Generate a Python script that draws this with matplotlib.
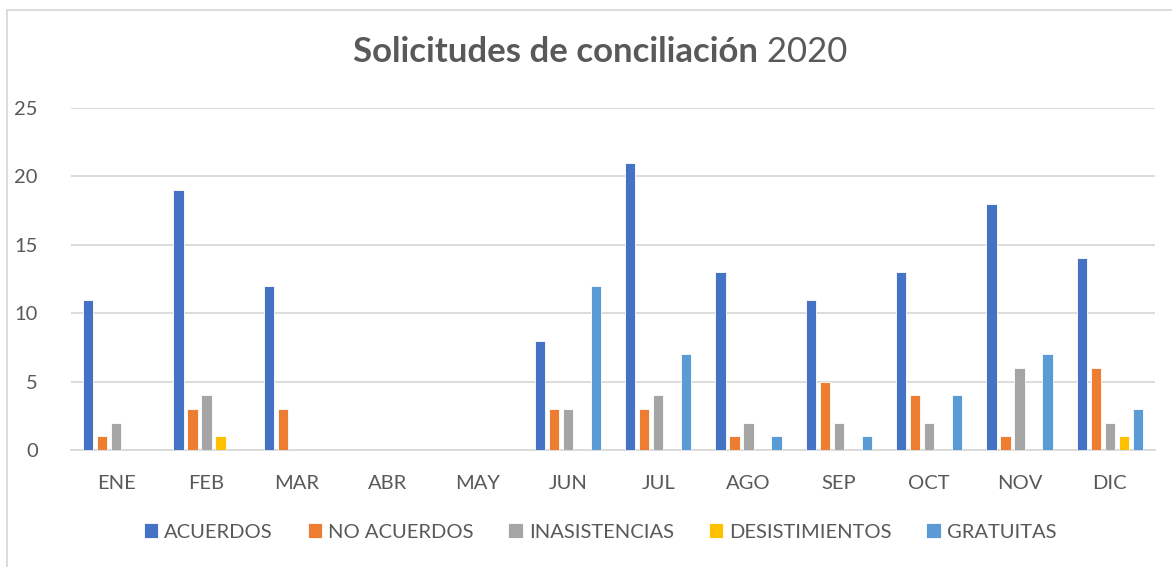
import matplotlib
matplotlib.use("Agg")
import matplotlib.pyplot as plt
import numpy as np

plt.rcParams['font.family'] = ['Lato', 'DejaVu Sans']

months = ["ENE", "FEB", "MAR", "ABR", "MAY", "JUN", "JUL", "AGO", "SEP", "OCT", "NOV", "DIC"]
acuerdos = [11, 19, 12, 0, 0, 8, 21, 13, 11, 13, 18, 14]
no_acuerdos = [1, 3, 3, 0, 0, 3, 3, 1, 5, 4, 1, 6]
inasistencias = [2, 4, 0, 0, 0, 3, 4, 2, 2, 2, 6, 2]
desistimientos = [0, 1, 0, 0, 0, 0, 0, 0, 0, 0, 0, 1]
gratuitas = [0, 0, 0, 0, 0, 12, 7, 1, 1, 4, 7, 3]

series = [
    ("ACUERDOS", acuerdos, "#4472C4"),
    ("NO ACUERDOS", no_acuerdos, "#ED7D31"),
    ("INASISTENCIAS", inasistencias, "#A5A5A5"),
    ("DESISTIMIENTOS", desistimientos, "#FFC000"),
    ("GRATUITAS", gratuitas, "#5B9BD5"),
]

txt = "#595959"
fig = plt.figure(figsize=(11.72, 5.67), dpi=100)
ax = fig.add_axes([71 / 1172, 1 - 450 / 567, (1155 - 71) / 1172, (450 - 108) / 567])

x = np.arange(len(months))
w = 0.118
step = 0.155
for i, (name, vals, col) in enumerate(series):
    ax.bar(x + (i - 2) * step, vals, width=w, color=col, edgecolor="white",
           linewidth=0.6, label=name, zorder=3)

ax.set_xlim(-0.5, 11.5)
ax.set_ylim(0, 25)
ax.set_yticks(range(0, 26, 5))
ax.set_xticks(x)
ax.set_xticklabels(months)
ax.yaxis.grid(True, color="#D9D9D9", linewidth=1.3, zorder=0)
ax.set_axisbelow(True)
for s in ["top", "right", "left"]:
    ax.spines[s].set_visible(False)
ax.spines["bottom"].set_color("#D9D9D9")
ax.spines["bottom"].set_linewidth(1.3)
ax.tick_params(axis="both", length=0, labelsize=14.5, labelcolor=txt)
ax.tick_params(axis="y", pad=24)
ax.tick_params(axis="x", pad=18)

leg = fig.legend(loc="center", bbox_to_anchor=(0.512, 1 - 532 / 567), ncol=5,
                 frameon=False, fontsize=14.5, handlelength=0.72, handleheight=0.72,
                 handletextpad=0.3, columnspacing=1.72)
for t in leg.get_texts():
    t.set_color(txt)

# title: bold part + normal year
fig.canvas.draw()
r = fig.canvas.get_renderer()
t1 = fig.text(0.5, 1 - 52 / 567, "Solicitudes de conciliación", fontsize=25,
              fontweight="bold", color=txt, ha="left", va="center")
t2 = fig.text(0.5, 1 - 52 / 567, " 2020", fontsize=25, color=txt, ha="left", va="center")
w1 = t1.get_window_extent(r).width
w2 = t2.get_window_extent(r).width
x0 = (600 - (w1 + w2) / 2) / 1172
t1.set_x(x0)
t2.set_x(x0 + w1 / 1172)

# chart border (top and left visible)
fig.add_artist(plt.Line2D([7 / 1172, 1], [1 - 9.5 / 567] * 2, color="#D9D9D9", lw=1.3))
fig.add_artist(plt.Line2D([7 / 1172] * 2, [0, 1 - 9.5 / 567], color="#D9D9D9", lw=1.3))

fig.savefig("out.png", dpi=100)
